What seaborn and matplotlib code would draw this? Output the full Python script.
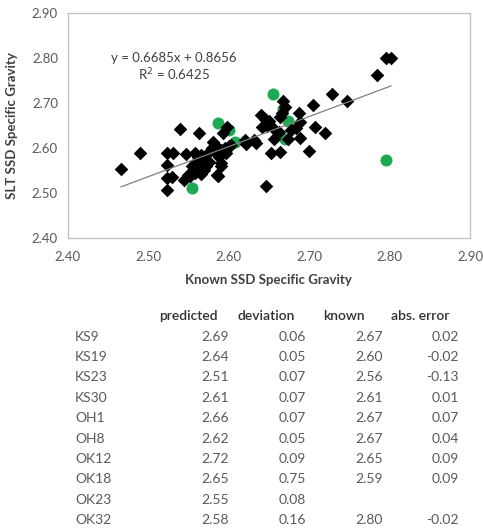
import numpy as np
import matplotlib
matplotlib.use("Agg")
import matplotlib.pyplot as plt
import seaborn as sns

# ---- data ----
# black diamonds: all samples (known SSD, SLT SSD)
known_all = [2.466, 2.490, 2.523, 2.531, 2.547, 2.539, 2.563, 2.523, 2.523, 2.530,
             2.523, 2.544, 2.550, 2.558, 2.562, 2.566, 2.572, 2.560, 2.568, 2.575,
             2.555, 2.565, 2.572, 2.563, 2.570, 2.558, 2.552, 2.566, 2.598, 2.593,
             2.581, 2.583, 2.579, 2.586, 2.590, 2.595, 2.600, 2.603, 2.588, 2.591,
             2.585, 2.587, 2.620, 2.622, 2.631, 2.634, 2.640, 2.645, 2.650, 2.648,
             2.655, 2.642, 2.662, 2.667, 2.670, 2.666, 2.664, 2.688, 2.689, 2.705,
             2.678, 2.684, 2.657, 2.674, 2.689, 2.653, 2.664, 2.700, 2.707, 2.720,
             2.728, 2.747, 2.785, 2.796, 2.802, 2.647, 2.590, 2.597]
slt_all = [2.553, 2.590, 2.589, 2.590, 2.587, 2.642, 2.633, 2.563, 2.533, 2.536,
           2.507, 2.530, 2.541, 2.590, 2.580, 2.586, 2.586, 2.570, 2.575, 2.570,
           2.560, 2.562, 2.560, 2.550, 2.552, 2.545, 2.538, 2.542, 2.648, 2.633,
           2.615, 2.607, 2.600, 2.588, 2.596, 2.600, 2.605, 2.608, 2.580, 2.567,
           2.541, 2.539, 2.618, 2.610, 2.618, 2.611, 2.674, 2.665, 2.660, 2.650,
           2.645, 2.648, 2.637, 2.706, 2.692, 2.678, 2.670, 2.679, 2.659, 2.696,
           2.641, 2.645, 2.620, 2.620, 2.622, 2.590, 2.592, 2.594, 2.648, 2.633,
           2.721, 2.706, 2.763, 2.800, 2.800, 2.516, 2.560, 2.590]

# green circles: test samples, unrounded positions
green_known = [2.668, 2.600, 2.555, 2.608, 2.674, 2.670, 2.655, 2.587, 2.796]
green_slt = [2.688, 2.640, 2.511, 2.615, 2.661, 2.620, 2.721, 2.656, 2.574]

# table
samples = ["KS9", "KS19", "KS23", "KS30", "OH1", "OH8", "OK12", "OK18", "OK23", "OK32"]
predicted = [2.69, 2.64, 2.51, 2.61, 2.66, 2.62, 2.72, 2.65, 2.55, 2.58]
deviation = [0.06, 0.05, 0.07, 0.07, 0.07, 0.05, 0.09, 0.75, 0.08, 0.16]
known = [2.67, 2.60, 2.56, 2.61, 2.67, 2.67, 2.65, 2.59, np.nan, 2.80]
abs_error = [0.02, -0.02, -0.13, 0.01, 0.07, 0.04, 0.09, 0.09, np.nan, -0.02]
headers = ["predicted", "deviation", "known", "abs. error"]

slope, intercept, r2 = 0.6685, 0.8656, 0.6425

sns.set_style("white")
plt.rcParams['font.family'] = ['Lato', 'DejaVu Sans']

W, H = 483, 531
fig = plt.figure(figsize=(W / 100, H / 100), dpi=100)
ax = fig.add_axes([67.7 / W, 1 - 238.3 / H, (470 - 67.7) / W, (238.3 - 13.3) / H])

green = "#1EAA52"
sns.scatterplot(x=green_known, y=green_slt, color=green, s=75, linewidth=0, ax=ax, zorder=2)
sns.scatterplot(x=known_all, y=slt_all, marker="D", color="black", s=48, linewidth=0, ax=ax, zorder=3)

xs = np.array([min(known_all), max(known_all)])
ax.plot(xs, slope * xs + intercept, color="#808080", lw=0.9, zorder=4)

ax.set_xlim(2.40, 2.90)
ax.set_ylim(2.40, 2.90)
ax.set_xticks(np.arange(2.40, 2.901, 0.10))
ax.set_yticks(np.arange(2.40, 2.901, 0.10))
ax.xaxis.set_major_formatter(matplotlib.ticker.FormatStrFormatter('%.2f'))
ax.yaxis.set_major_formatter(matplotlib.ticker.FormatStrFormatter('%.2f'))
ax.tick_params(axis='both', direction='out', length=4, width=0.8, color="#BFBFBF",
               labelsize=9.5, labelcolor="#595959", pad=3)
ax.tick_params(axis='x', pad=5)
for sp in ax.spines.values():
    sp.set_visible(True)
    sp.set_color("#BFBFBF")
    sp.set_linewidth(0.9)

ax.set_xlabel("Known SSD Specific Gravity", fontsize=9.5, fontweight="bold", color="#404040", labelpad=8)
ax.set_ylabel("SLT SSD Specific Gravity", fontsize=9.5, fontweight="bold", color="#404040", labelpad=10)

ax.text(2.532, 2.800, f"y = {slope}x + {intercept}", ha="center", va="center", fontsize=9.5, color="#404040")
ax.text(2.532, 2.763, f"R$^2$ = {r2}", ha="center", va="center", fontsize=9.5, color="#404040")

# ---- table below the chart ----
def fx(px):
    return px / W

def fy(py):
    return 1 - py / H

header_x = [159, 237, 323, 391]
col_right = [229, 306, 383, 459]
for hx, h in zip(header_x, headers):
    fig.text(fx(hx), fy(316), h, ha="left", va="center", fontsize=10, fontweight="semibold", color="#303030")

row_y0, row_dy = 336.7, 20.37
cols = [predicted, deviation, known, abs_error]
for i, name in enumerate(samples):
    y = fy(row_y0 + i * row_dy)
    fig.text(fx(75), y, name, ha="left", va="center", fontsize=10, color="#595959")
    for cx, col in zip(col_right, cols):
        v = col[i]
        if np.isnan(v):
            continue
        fig.text(fx(cx), y, f"{v:.2f}", ha="right", va="center", fontsize=10, color="#595959")

fig.savefig("out.png", dpi=100)
